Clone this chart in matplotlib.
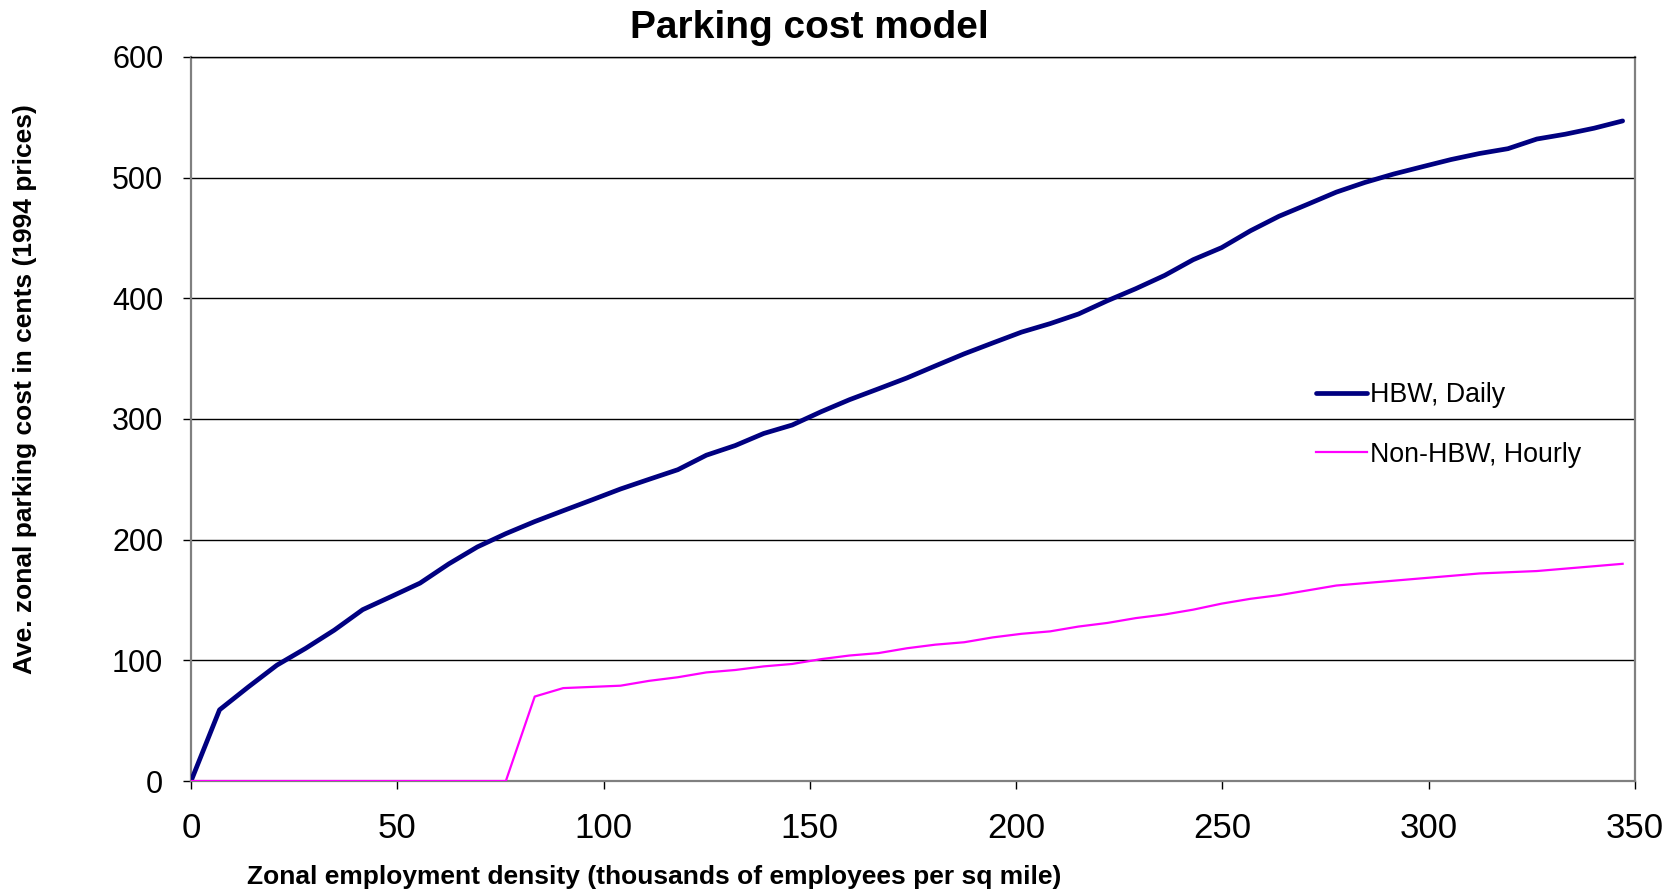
import matplotlib
matplotlib.use("Agg")
import matplotlib.pyplot as plt

plt.rcParams.update({
    "font.family": ["Liberation Sans", "DejaVu Sans"],
    "font.size": 22,
})

# zonal employment density, thousands of employees per sq mile
density = [0.0, 6.9, 13.9, 20.8, 27.8, 34.7, 41.6, 48.6, 55.5, 62.5,
           69.4, 76.3, 83.3, 90.2, 97.2, 104.1, 111.0, 118.0, 124.9, 131.9,
           138.8, 145.7, 152.7, 159.6, 166.6, 173.5, 180.4, 187.4, 194.3, 201.3,
           208.2, 215.1, 222.1, 229.0, 236.0, 242.9, 249.8, 256.8, 263.7, 270.7,
           277.6, 284.5, 291.5, 298.4, 305.4, 312.3, 319.2, 326.2, 333.1, 340.1,
           347.0]

# average zonal parking cost, cents (1994 prices)
hbw_daily = [0, 59, 78, 96, 110, 125, 142, 153, 164, 180,
             194, 205, 215, 224, 233, 242, 250, 258, 270, 278,
             288, 295, 306, 316, 325, 334, 344, 354, 363, 372,
             379, 387, 398, 408, 419, 432, 442, 456, 468, 478,
             488, 496, 503, 509, 515, 520, 524, 532, 536, 541,
             547]
non_hbw_hourly = [0, 0, 0, 0, 0, 0, 0, 0, 0, 0,
                  0, 0, 70, 77, 78, 79, 83, 86, 90, 92,
                  95, 97, 101, 104, 106, 110, 113, 115, 119, 122,
                  124, 128, 131, 135, 138, 142, 147, 151, 154, 158,
                  162, 164, 166, 168, 170, 172, 173, 174, 176, 178,
                  180]

fig = plt.figure(figsize=(16.79, 8.93), dpi=100)
ax = fig.add_axes([0.1138, 0.1254, 0.8600, 0.8108])

for y in range(100, 601, 100):
    ax.axhline(y, color="black", linewidth=1.0, zorder=1)

ax.plot(density, hbw_daily, color="#000080", linewidth=3.4,
        label="HBW, Daily", zorder=3, solid_capstyle="round")
ax.plot(density, non_hbw_hourly, color="#FF00FF", linewidth=1.6,
        label="Non-HBW, Hourly", zorder=3)

ax.set_xlim(0, 350)
ax.set_ylim(0, 600)
ax.set_xticks(range(0, 351, 50))
ax.set_yticks(range(0, 601, 100))
ax.tick_params(direction="out", length=6, width=1.0, color="black")
ax.tick_params(axis="x", labelsize=25, pad=16)
ax.tick_params(axis="y", labelsize=22, pad=14)

for side in ("left", "right", "bottom"):
    ax.spines[side].set_color("#808080")
    ax.spines[side].set_linewidth(1.6)
ax.spines["top"].set_color("black")
ax.spines["top"].set_linewidth(1.0)

fig.text(0.482, 0.969, "Parking cost model", fontsize=28, fontweight="bold",
         ha="center", va="center")
fig.text(0.3897, 0.018,
         "Zonal employment density (thousands of employees per sq mile)",
         fontsize=19, fontweight="bold", ha="center", va="center")
fig.text(0.015, 0.564, "Ave. zonal parking cost in cents (1994 prices)",
         fontsize=19, fontweight="bold", ha="center", va="center",
         rotation=90)

ax.legend(loc="center left", bbox_to_anchor=(0.779, 0.492), frameon=False,
          fontsize=19.3, handlelength=1.9, handletextpad=0.12,
          labelspacing=1.25, borderpad=0, borderaxespad=0)

fig.savefig("out.png", dpi=100)
plt.close(fig)
